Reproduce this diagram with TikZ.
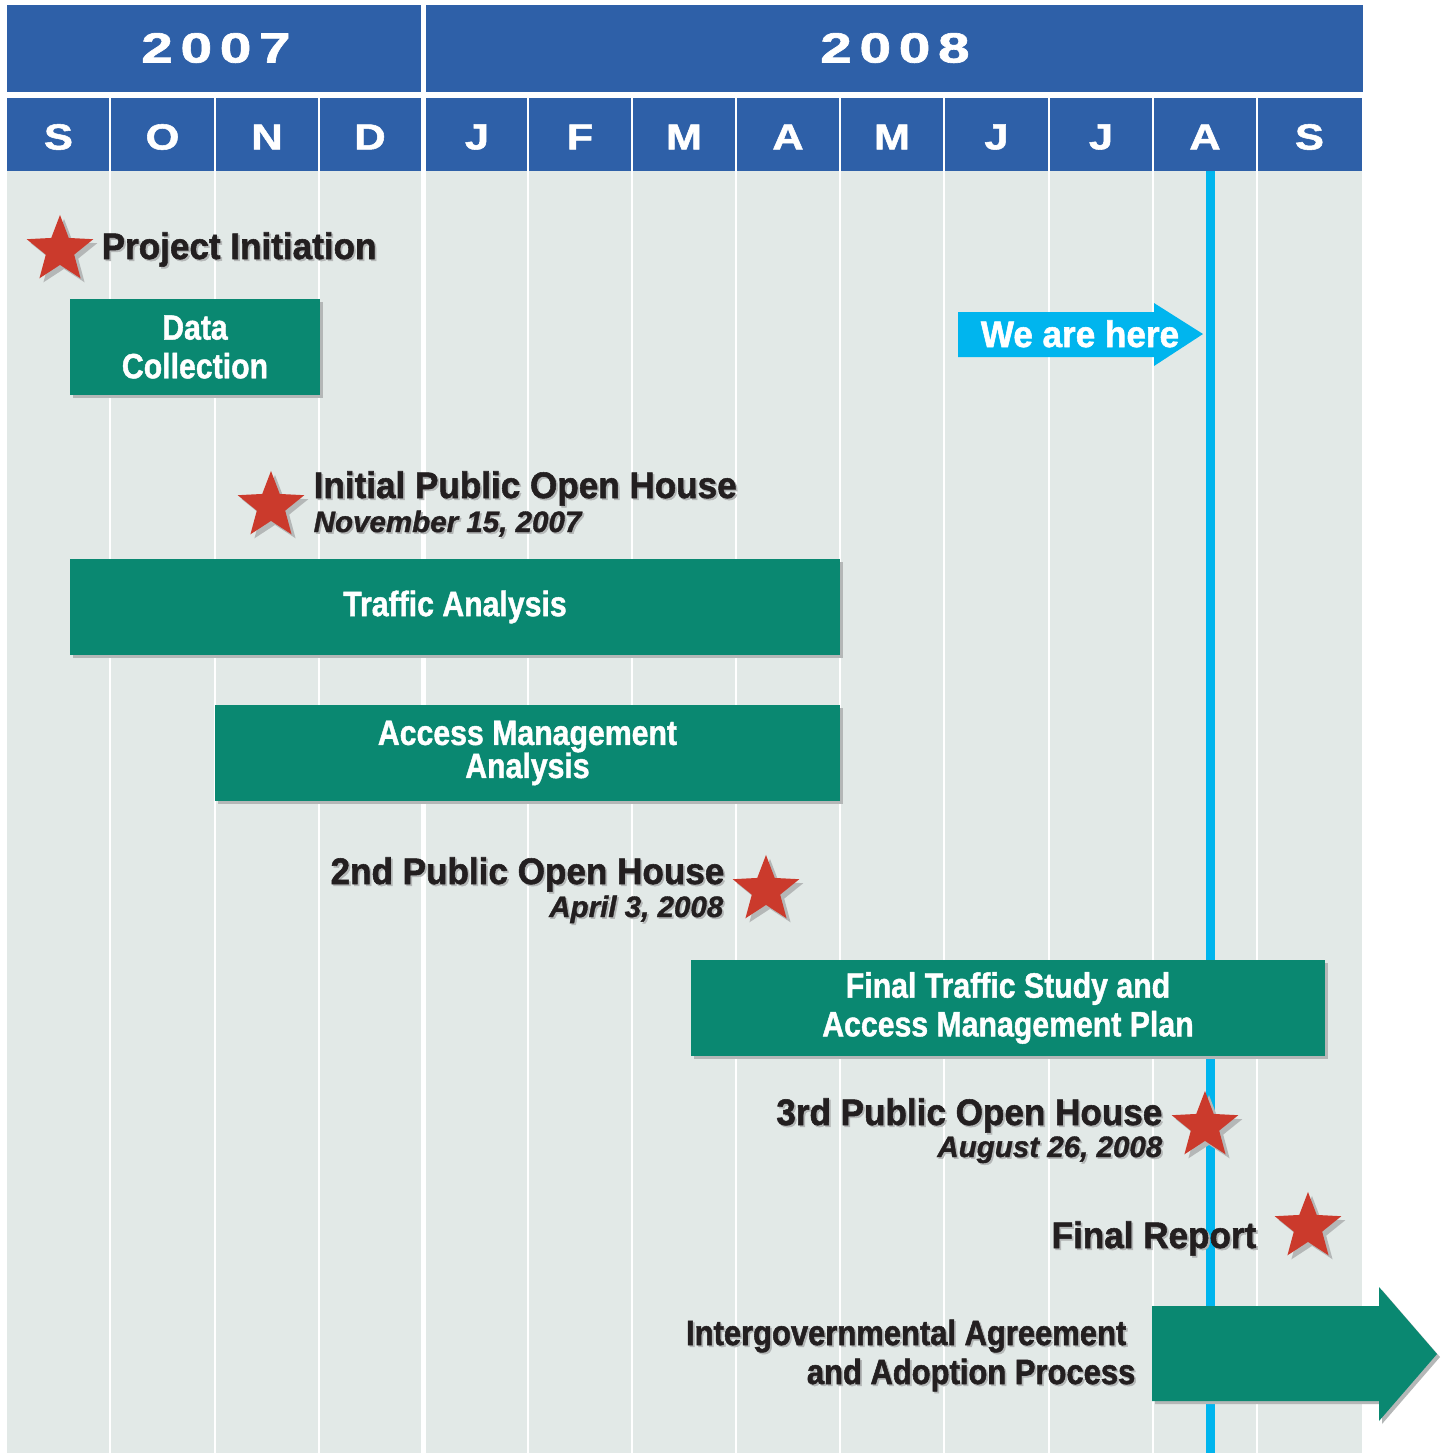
\documentclass[tikz,border=0pt]{standalone}
\usepackage{fontspec}
\setmainfont{Liberation Sans}
\newfontfamily\yearfont[FakeStretch=1.35,FakeBold=1.5,LetterSpace=18]{Liberation Sans}
\newfontfamily\monthfont[FakeStretch=1.2,FakeBold=1.5]{Liberation Sans}
\newfontfamily\barfont[FakeStretch=0.86,FakeBold=1.2]{Liberation Sans}
\newfontfamily\msfont[FakeStretch=0.95,FakeBold=1.5]{Liberation Sans}
\newfontfamily\datefont[FakeBold=1.2]{Liberation Sans}
\newfontfamily\igafont[FakeStretch=0.88,FakeBold=1.5]{Liberation Sans}
\usetikzlibrary{shapes.geometric,shadows}

\definecolor{hdrblue}{HTML}{2E60A8}
\definecolor{gridgrey}{HTML}{E2E9E7}
\definecolor{bargreen}{HTML}{0A8871}
\definecolor{starred}{HTML}{CB3A2C}
\definecolor{nowblue}{HTML}{00B5EE}
\definecolor{txtdark}{HTML}{231F20}
\definecolor{shadowgrey}{HTML}{B4B7B7}

% text with a small grey shadow: name, anchor, position, style, text
\newcommand\shtext[5]{%
  \node[#4, text=shadowgrey, anchor=#2, xshift=0.5pt, yshift=-0.5pt] at (#3) {#5};
  \node[#4, anchor=#2] (#1) at (#3) {#5};}

\begin{document}
\begin{tikzpicture}[x=0.01cm, y=-0.01cm]
        \tikzset{
            bar/.style={
                fill=bargreen,
                text=white,
                font=\barfont\bfseries\fontsize{10}{11}\selectfont,
                align=center,
                inner sep=0pt,
                minimum height=0.96cm,
                drop shadow={shadow xshift=0.03cm, shadow yshift=-0.03cm, fill=shadowgrey, opacity=1}
            },
            mstar/.style={
                star, star points=5, star point ratio=2.35,
                minimum size=0.70cm,
                inner sep=0pt,
                fill=starred,
                drop shadow={shadow xshift=0.04cm, shadow yshift=-0.04cm, fill=shadowgrey, opacity=1}
            },
            mstitle/.style={
                inner sep=0pt,
                text=txtdark,
                font=\msfont\bfseries\fontsize{10.5}{12}\selectfont
            },
            msdate/.style={
                inner sep=0pt,
                text=txtdark,
                font=\datefont\bfseries\itshape\fontsize{8.4}{10}\selectfont
            },
            igatext/.style={
                inner sep=0pt,
                text=txtdark,
                font=\igafont\bfseries\fontsize{10}{12}\selectfont
            }
        }
        \useasboundingbox (0,0) rectangle (1445,1453);
        \fill[white] (0,0) rectangle (1445,1453);

        % grid
        \fill[gridgrey] (7,171) rectangle (1362,1453);
        \fill[hdrblue] (7,5) rectangle (421,92);
        \fill[hdrblue] (426,5) rectangle (1363,92);
        \fill[hdrblue] (7,98) rectangle (421,171);
        \fill[hdrblue] (426,98) rectangle (1362,171);
        \fill[white] (421,0) rectangle (426,1453);
        \foreach \x in {110,215,319,528,632,736,840,944,1049,1153,1257}
            \draw[white, line width=0.025cm] (\x,98) -- (\x,1453);

        \node[text=white, font=\yearfont\bfseries\fontsize{12}{14}\selectfont] (y2007) at (216,48) {2007};
        \node[text=white, font=\yearfont\bfseries\fontsize{12}{14}\selectfont] (y2008) at (895,48) {2008};
        \foreach \m/\x [count=\i] in {S/58.5, O/162.5, N/267, D/370, J/477, F/580, M/684,
                                     A/788, M/892, J/996.5, J/1101, A/1205, S/1309.5}
            \node[text=white, font=\monthfont\bfseries\fontsize{10.3}{12}\selectfont] (m\i) at (\x,137) {\m};

        % we are here
        \draw[nowblue, line width=0.09cm] (1210.5,171) -- (1210.5,1453);
        \fill[nowblue] (958,312) -- (1154,312) -- (1154,303) -- (1203,334)
                       -- (1154,366) -- (1154,357) -- (958,357) -- cycle;
        \node[anchor=base, inner sep=0pt, text=white, font=\msfont\bfseries\fontsize{10.5}{12}\selectfont] (here) at (1080,347) {We are here};

        % bars
        \node[bar, minimum width=2.50cm] (datacoll) at (195,347) {Data\\Collection};
        \node[bar, minimum width=7.70cm] (traffic) at (455,607) {Traffic Analysis};
        \node[bar, minimum width=6.25cm, font=\barfont\bfseries\fontsize{10}{9.4}\selectfont] (access) at (527.5,753) {Access Management\\Analysis};
        \node[bar, minimum width=6.34cm] (finalstudy) at (1008,1008) {Final Traffic Study and\\Access Management Plan};
        \fill[bargreen, drop shadow={shadow xshift=0.03cm, shadow yshift=-0.03cm, fill=shadowgrey, opacity=1}]
            (1152,1306) -- (1379,1306) -- (1379,1287) -- (1437,1354)
            -- (1379,1421) -- (1379,1401) -- (1152,1401) -- cycle;

        % stars
        \node[mstar] (st1) at (60,250) {};
        \node[mstar] (st2) at (271,506) {};
        \node[mstar] (st3) at (766,890) {};
        \node[mstar] (st4) at (1205,1126) {};
        \node[mstar] (st5) at (1308,1227) {};

        % milestones
        \shtext{init}{base west}{101,259}{mstitle}{Project Initiation}
        \shtext{oh1}{base west}{313,498}{mstitle}{Initial Public Open House}
        \shtext{oh1d}{base west}{313,532}{msdate}{November 15, 2007}
        \shtext{oh2}{base east}{725,884}{mstitle}{2nd Public Open House}
        \shtext{oh2d}{base east}{724,917}{msdate}{April 3, 2008}
        \shtext{oh3}{base east}{1163,1125}{mstitle}{3rd Public Open House}
        \shtext{oh3d}{base east}{1163,1157}{msdate}{August 26, 2008}
        \shtext{report}{base east}{1257,1248}{mstitle}{Final Report}
        \shtext{iga1}{base east}{1127,1345}{igatext}{Intergovernmental Agreement}
        \shtext{iga2}{base east}{1136,1384}{igatext}{and Adoption Process}

    \end{tikzpicture}
\end{document}
